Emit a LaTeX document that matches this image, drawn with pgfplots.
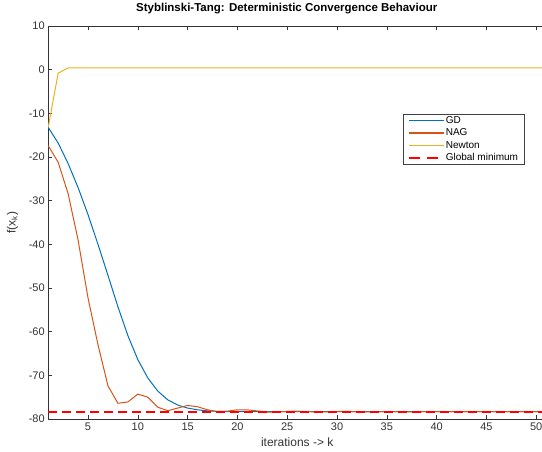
\documentclass[border=0pt]{standalone}
\usepackage{fontspec}
\setmainfont{Liberation Sans}
\usepackage{pgfplots}
\pgfplotsset{compat=1.18}
\usetikzlibrary{calc}
\definecolor{gdblue}{rgb}{0,0.447,0.741}
\definecolor{nagorange}{rgb}{0.850,0.325,0.098}
\definecolor{newtonyellow}{rgb}{0.929,0.694,0.125}
\definecolor{minred}{rgb}{1,0,0}
\begin{document}
\begin{tikzpicture}
\begin{axis}[name=ax, scale only axis, width=498pt, height=393pt,
 xmin=1, xmax=51, ymin=-80, ymax=10,
 xtick={5,10,...,50}, ytick={-80,-70,...,10},
 tick align=inside, major tick length=4pt,
 tick style={black!80, line width=0.5pt},
 axis line style={black!80, line width=0.5pt},
 ticklabel style={font=\fontsize{11}{13}\selectfont, text=black!80},
 /pgf/number format/assume math mode=true,
 title={Styblinski-Tang: Deterministic Convergence Behaviour},
 title style={font=\bfseries\fontsize{11.5}{13}\selectfont, at={(axis description cs:0.479,1)}, anchor=base, yshift=9pt},
 xlabel={iterations -> k},
 xlabel style={font=\fontsize{12}{14}\selectfont, text=black!80, at={(axis description cs:0.5,0)}, anchor=base, yshift=-27pt},
 ylabel={f(x\textsubscript{k})},
 ylabel style={font=\fontsize{12}{14}\selectfont, text=black!80, at={(axis description cs:-0.0717,0.5)}, anchor=center},
 legend cell align=left,
 legend style={at={(axis description cs:0.956,0.776)}, anchor=north east,
   font=\fontsize{10}{11}\selectfont, draw=black!75, line width=0.5pt,
   inner xsep=5pt, inner ysep=0.5pt, row sep=1pt,
   nodes={inner sep=1pt, text height=7.5pt, text depth=2pt}},
]
\addplot[gdblue, line width=1pt,
  legend image code/.code={\draw[draw=gdblue, line width=1.3pt] (0pt,0pt) -- (35pt,0pt);}] coordinates {
(1,-13.2) (2,-16.8) (3,-21.5) (4,-27.0) (5,-33.2) (6,-40.0) (7,-47.1) (8,-54.3)
(9,-60.9) (10,-66.4) (11,-70.6) (12,-73.6) (13,-75.6) (14,-76.8) (15,-77.5)
(16,-77.9) (17,-78.15) (18,-78.26) (19,-78.3) (20,-78.32) (21,-78.33) (22,-78.33)
(23,-78.33) (24,-78.33) (25,-78.33) (26,-78.33) (27,-78.33) (28,-78.33) (29,-78.33)
(30,-78.33) (31,-78.33) (32,-78.33) (33,-78.33) (34,-78.33) (35,-78.33) (36,-78.33)
(37,-78.33) (38,-78.33) (39,-78.33) (40,-78.33) (41,-78.33) (42,-78.33) (43,-78.33)
(44,-78.33) (45,-78.33) (46,-78.33) (47,-78.33) (48,-78.33) (49,-78.33) (50,-78.33) (51,-78.33)};
\addlegendentry{GD}
\addplot[nagorange, line width=1pt,
  legend image code/.code={\draw[draw=nagorange, line width=1.3pt] (0pt,0pt) -- (35pt,0pt);}] coordinates {
(1,-17.4) (2,-21.2) (3,-28.4) (4,-39.0) (5,-52.3) (6,-63.0) (7,-72.4) (8,-76.4)
(9,-76.1) (10,-74.3) (11,-75.0) (12,-77.3) (13,-78.1) (14,-77.5) (15,-76.9)
(16,-77.2) (17,-77.9) (18,-78.3) (19,-78.2) (20,-77.9) (21,-77.9) (22,-78.15)
(23,-78.4) (24,-78.4) (25,-78.25) (26,-78.2) (27,-78.3) (28,-78.4) (29,-78.38)
(30,-78.28) (31,-78.25) (32,-78.32) (33,-78.37) (34,-78.36) (35,-78.3) (36,-78.3)
(37,-78.34) (38,-78.35) (39,-78.33) (40,-78.32) (41,-78.33) (42,-78.34) (43,-78.33)
(44,-78.33) (45,-78.33) (46,-78.33) (47,-78.33) (48,-78.33) (49,-78.33) (50,-78.33) (51,-78.33)};
\addlegendentry{NAG}
\addplot[newtonyellow, line width=1pt,
  legend image code/.code={\draw[draw=newtonyellow, line width=1.9pt] (0pt,0pt) -- (35pt,0pt);}] coordinates {
(1,-13.2) (2,-0.8) (3,0.39) (4,0.39) (5,0.39) (10,0.39) (15,0.39) (20,0.39) (25,0.39)
(30,0.39) (35,0.39) (40,0.39) (45,0.39) (51,0.39)};
\addlegendentry{Newton}
\addplot[draw=minred, line width=1.6pt, dash pattern=on 9pt off 5pt,
  legend image code/.code={\draw[draw=minred, line width=1.5pt, dash pattern=on 11pt off 7pt] (0pt,0pt) -- (29pt,0pt);}]
  coordinates {(1,-78.332) (51,-78.332)};
\addlegendentry{Global minimum}
\end{axis}
\pgfresetboundingbox
\path ($(ax.south west)+(-48.2pt,-32pt)$) rectangle ($(ax.south west)+(493.8pt,419pt)$);
\end{tikzpicture}
\end{document}
